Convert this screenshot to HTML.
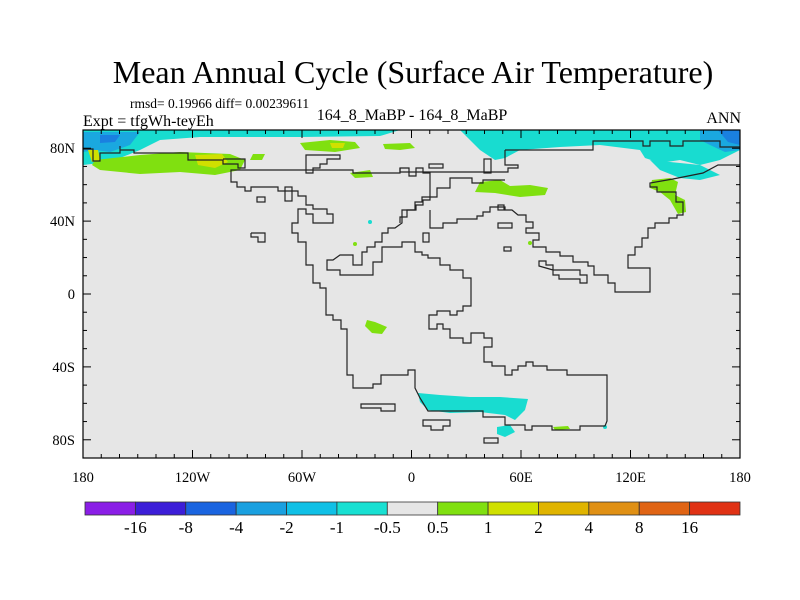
<!DOCTYPE html>
<html><head><meta charset="utf-8">
<style>
html,body{margin:0;padding:0;background:#fff;}
svg{display:block;font-family:"Liberation Serif",serif;}
</style></head>
<body>
<svg id="chart" width="800" height="600" viewBox="0 0 800 600">
<rect width="800" height="600" fill="#fff"/>
<text x="413" y="83" font-size="32" text-anchor="middle">Mean Annual Cycle (Surface Air Temperature)</text>
<text x="130" y="108" font-size="13.5">rmsd= 0.19966 diff= 0.00239611</text>
<text x="83" y="126" font-size="16">Expt = tfgWh-teyEh</text>
<text x="412" y="120" font-size="16" text-anchor="middle">164_8_MaBP - 164_8_MaBP</text>
<text x="741" y="123" font-size="16" text-anchor="end">ANN</text>

<g id="map">
<rect x="83" y="130" width="657" height="328" fill="#e6e6e6"/>
<g>
<path d="M83,130 H400 L380,136 L300,137 L200,137 L160,140 L140,150 L120,158 L100,163 L83,165 Z" fill="#18dcd0"/>
<path d="M83,132 L140,132 L130,145 L110,152 L95,150 L83,152 Z" fill="#1aa8e0"/>
<path d="M100,135 L120,135 L115,142 L100,143 Z" fill="#1a80e0"/>
<path d="M460,130 H740 V150 L720,160 L700,165 L680,160 L660,163 L645,158 L640,150 L600,145 L560,147 L520,150 L505,158 L495,160 L480,150 Z" fill="#18dcd0"/>
<path d="M650,160 L700,165 L720,175 L700,180 L680,178 L660,170 Z" fill="#18dcd0"/>
<path d="M700,130 H740 V150 L725,152 L710,145 L700,140 Z" fill="#1aa8e0"/>
<path d="M718,130 H740 V145 L728,142 Z" fill="#1a80e0"/>
<path d="M95,160 L140,155 L180,152 L230,154 L245,160 L240,170 L215,175 L180,172 L140,174 L100,170 L92,165 Z" fill="#80e010"/>
<path d="M195,155 L222,154 L228,162 L215,168 L198,165 Z" fill="#d0e000"/>
<path d="M88,150 L98,150 L100,160 L92,162 Z" fill="#d0e000"/>
<path d="M300,143 L330,140 L355,142 L360,148 L335,152 L305,150 Z" fill="#80e010"/>
<path d="M330,143 L345,143 L343,148 L332,148 Z" fill="#d0e000"/>
<path d="M383,144 L410,143 L415,148 L400,150 L385,149 Z" fill="#80e010"/>
<path d="M350,173 L370,170 L373,177 L355,178 Z" fill="#80e010"/>
<path d="M253,154 L265,154 L262,160 L250,160 Z" fill="#80e010"/>
<path d="M480,182 L500,180 L510,186 L530,185 L548,188 L545,195 L520,197 L495,193 L475,192 Z" fill="#80e010"/>
<path d="M652,180 L670,178 L678,182 L675,195 L685,200 L686,212 L678,214 L670,200 L660,192 L650,188 Z" fill="#80e010"/>
<path d="M367,320 L375,322 L387,327 L382,334 L372,333 L365,326 Z" fill="#80e010"/>
<path d="M418,393 L440,395 L470,397 L500,397 L528,399 L525,410 L515,420 L505,415 L480,412 L450,413 L428,410 L420,402 Z" fill="#18dcd0"/>
<path d="M497,427 L510,425 L515,432 L505,437 L497,434 Z" fill="#18dcd0"/>
<circle cx="370" cy="222" r="2" fill="#18dcd0"/>
<circle cx="355" cy="244" r="2" fill="#80e010"/>
<circle cx="530" cy="243" r="2" fill="#80e010"/>
<circle cx="605" cy="427" r="2" fill="#18dcd0"/>
<path d="M553,427 L568,426 L570,429 L555,430 Z" fill="#80e010"/>
</g>
<g fill="none" stroke="#222" stroke-width="1.2">
<polyline points="231,173 231,182 237,182 237,187 245,187 245,191 251,191 251,187 278,187 278,191 298,191 298,196 306,196 306,205 313,205 313,209 327,209 327,214 333,214 333,223 313,223 313,214 306,214 306,209 298,209 298,223 292,223 292,233 298,233 298,242 306,242 306,265 313,265 313,283 320,283 320,288 326,288 326,315 333,315 333,320 341,320 341,329 347,329 347,375 353,375 353,388 373,388 373,384 381,384 381,375 408,375 408,370 415,370 415,388 420,398 428,411 483,411 483,417 505,417 505,425 525,425 525,430 532,430 532,426 552,426 552,430 580,430 580,426 605,426 607,421 607,375 567,375 567,370 547,370 547,366 533,366 533,362 526,362 526,366 518,366 518,370 512,370 512,375 505,375 505,366 492,366 492,362 484,362 484,347 492,347 492,338 484,338 484,333 471,333 471,343 463,343 463,338 450,338 450,329 443,329 443,324 437,324 437,329 429,329 429,315 437,315 437,311 450,311 450,315 457,315 457,311 463,311 463,306 471,306 471,278 463,278 463,270 450,270 450,265 440,265 440,258 428,258 428,255 422,255 422,252 415,252 415,242 402,242 402,247 382,247 382,262 373,262 373,275 340,275 340,270 327,270 327,260 333,260 340,255 353,255 353,265 362,265 362,252 367,252 367,247 375,247 375,242 382,242 382,233 388,233 388,228 395,228 402,223 402,210 416,210 416,205 423,205 423,200 430,200 430,173 423,173 423,168 416,168 416,176 409,176 409,168 400,168 400,173 353,173 353,170 231,170 231,173"/>
<polyline points="430,210 430,228 443,228 443,223 457,223 457,219 477,219 477,216 483,216 483,212 490,212 490,207 505,207 505,210 512,210 518,215 526,215 526,222 533,222 533,228 526,228 526,233 539,233 539,240 533,240 533,247 546,247 546,252 560,252 560,256 573,256 573,262 588,262 588,266 594,266 594,275 608,275 608,283 615,283 615,292 650,292 650,268 628,268 628,255 635,255 635,247 642,247 642,238 648,238 648,228 655,228 655,223 669,223 669,218 677,218 677,215 683,215 683,202 676,202 676,192 657,192 657,187 650,187 650,183 673,179 703,173 718,165 740,165"/>
<polyline points="400,223 400,217 407,217 407,210 415,210 415,202 422,202 422,197 437,197 437,188 450,188 450,178 472,178 472,183 483,183 483,180 505,180"/>
<polyline points="505,150 505,165 518,165 518,168 508,168 508,172 400,172 400,168"/>
<polyline points="505,150 593,150 593,141 643,141 643,146 650,146 650,141 670,141 670,146 683,146 683,141 720,141 720,147 740,147"/>
<polyline points="83,149 93,149 93,161 100,161 100,153 120,153 120,146 120,150 134,150 134,153 188,153 188,160 223,160 223,164 238,164 238,168 245,168 245,159 223,159"/>
<polygon points="306,155 340,155 340,159 327,159 327,164 320,164 320,168 313,168 313,173 306,173"/>
<polygon points="539,261 546,261 546,265 553,265 553,270 580,270 580,275 587,275 587,283 580,283 580,279 559,279 559,275 553,275 553,270 539,266"/>
<rect x="257" y="197" width="8" height="5"/>
<polyline points="251,233 265,233 265,242 258,242 258,237 251,237 251,233"/>
<rect x="285" y="187" width="7" height="14"/>
<rect x="423" y="233" width="6" height="9"/>
<rect x="429" y="164" width="14" height="4"/>
<rect x="484" y="159" width="7" height="14"/>
<rect x="498" y="223" width="14" height="5"/>
<rect x="504" y="247" width="7" height="4"/>
<rect x="498" y="205" width="6" height="5"/>
<polygon points="361,404 395,404 395,411 381,411 381,408 361,408"/>
<polygon points="423,420 450,420 450,426 443,426 443,430 431,430 431,426 423,426"/>
<rect x="484" y="438" width="14" height="5"/>
</g>
<g id="ticks" stroke="#000" stroke-width="1"></g>
<rect x="83" y="130" width="657" height="328" fill="none" stroke="#000" stroke-width="1.2"/>
<g id="labels" font-size="14.5"></g>
</g>
<g id="colorbar"></g>
</svg>
<script>
const lonTicks=[-180,-120,-60,0,60,120,180];
const lonLabels=["180","120W","60W","0","60E","120E","180"];
const latTicks=[80,40,0,-40,-80];
const latLabels=["80N","40N","0","40S","80S"];
const cbColors=["#8a1ee6","#3c1ed8","#1a64e0","#1aa0e0","#10c0e6","#18e0d2","#e6e6e6","#80e010","#d0e000","#e0b400","#e09014","#e06414","#e03214"];
const cbLabels=["-16","-8","-4","-2","-1","-0.5","0.5","1","2","4","8","16"];
const NS="http://www.w3.org/2000/svg";
const X0=83,X1=740,Y0=130,Y1=458;
const xLon=l=>X0+(l+180)/360*(X1-X0);
const yLat=l=>Y0+(90-l)/180*(Y1-Y0);
const tg=document.getElementById('ticks'),lg=document.getElementById('labels');
function line(g,x1,y1,x2,y2){const e=document.createElementNS(NS,'line');e.setAttribute('x1',x1);e.setAttribute('y1',y1);e.setAttribute('x2',x2);e.setAttribute('y2',y2);g.appendChild(e);return e;}
for(let l=-180;l<=180;l+=10){const x=xLon(l);const len=(l%60===0)?8:4;
 const a=line(tg,x,Y0,x,Y0+len);
 const b=line(tg,x,Y1,x,Y1-len);}
for(let l=-90;l<=90;l+=10){const y=yLat(l);const len=(l%40===0)?8:4;
 const a=line(tg,X0,y,X0+len,y);
 const b=line(tg,X1,y,X1-len,y);}
lonTicks.forEach((l,i)=>{const t=document.createElementNS(NS,'text');t.setAttribute('x',xLon(l));t.setAttribute('y',482);t.setAttribute('text-anchor','middle');t.textContent=lonLabels[i];
 
 
 lg.appendChild(t);});
latTicks.forEach((l,i)=>{const t=document.createElementNS(NS,'text');t.setAttribute('x',75);t.setAttribute('y',yLat(l)+5);t.setAttribute('text-anchor','end');t.textContent=latLabels[i];
 
 
 lg.appendChild(t);});
const cb=document.getElementById('colorbar');const CX0=85,CX1=740,CY=502,CH=13;const w=(CX1-CX0)/cbColors.length;
cbColors.forEach((c,i)=>{const r=document.createElementNS(NS,'rect');r.setAttribute('x',CX0+i*w);r.setAttribute('y',CY);r.setAttribute('width',w);r.setAttribute('height',CH);r.setAttribute('fill',c);r.setAttribute('stroke','#333');r.setAttribute('stroke-width','0.8');
 
 
 cb.appendChild(r);});
cbLabels.forEach((s,i)=>{const t=document.createElementNS(NS,'text');t.setAttribute('x',CX0+(i+1)*w);t.setAttribute('y',533);t.setAttribute('text-anchor','middle');t.setAttribute('font-size','17');t.textContent=s;
 
 
 cb.appendChild(t);});
</script>
</body></html>
